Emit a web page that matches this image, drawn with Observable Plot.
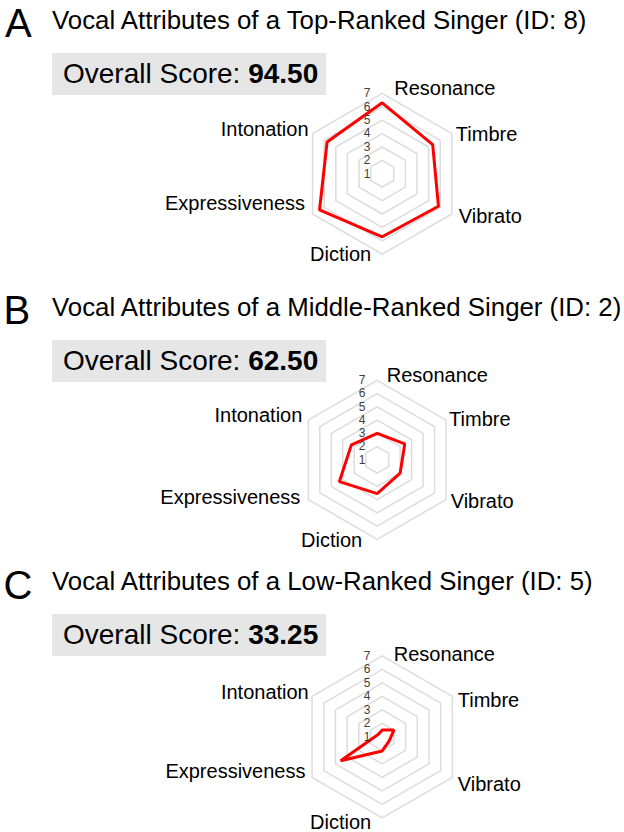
<!DOCTYPE html>
<html><head><meta charset="utf-8">
<script src="https://cdn.jsdelivr.net/npm/d3@7"></script>
<script src="https://cdn.jsdelivr.net/npm/@observablehq/plot@0.6"></script>
<style>
body{margin:0;background:#fff;}
#root{position:relative;width:624px;height:832px;overflow:hidden;font-family:"Liberation Sans",Arial,sans-serif;color:#000;}
.abs{position:absolute;white-space:nowrap;line-height:1;margin:0;padding:0;}
.box{position:absolute;background:#e6e6e6;}
svg.radar{position:absolute;left:0;}
</style></head><body><div id="root"></div>
<script>
// ---- data ----
const attributes = ["Resonance","Timbre","Vibrato","Diction","Expressiveness","Intonation"];
const panelLetters = ["A","B","C"];
const panelTitles = [
  "Vocal Attributes of a Top-Ranked Singer (ID: 8)",
  "Vocal Attributes of a Middle-Ranked Singer (ID: 2)",
  "Vocal Attributes of a Low-Ranked Singer (ID: 5)"
];
const overallScores = ["94.50","62.50","33.25"];
const topSingerValues    = [6.3, 5.35, 5.85, 5.7, 6.4, 5.75];
const middleSingerValues = [3.0, 3.4, 3.0, 3.55, 4.3, 3.25];
const lowSingerValues    = [1.5, 2.0, 1.6, 2.05, 4.55, 1.35];
const radialTicks = [1,2,3,4,5,6,7];
const seriesValues = [topSingerValues, middleSingerValues, lowSingerValues];

// ---- layout (style, not data) ----
const W = 624;
const layout = [
  {top:0,     h:287,   cx:381.7, cy:173.3, k:13.4,
   lab:{Resonance:[12,-5], Timbre:[4,0.7], Vibrato:[7,2.7], Diction:[-11,0], Expressiveness:[-7.5,-10.5], Intonation:[-4,-3.6]}},
  {top:287,   h:274.5, cx:376.7, cy:172.3, k:13.25,
   lab:{Resonance:[9.5,-5], Timbre:[3,-0.8], Vibrato:[4.6,1.8], Diction:[-15,1.4], Expressiveness:[-8,-2], Intonation:[-6,-4.6]}},
  {top:561.5, h:270.5, cx:381.7, cy:174.3, k:13.5,
   lab:{Resonance:[11.6,-1], Timbre:[5.4,4], Vibrato:[5.4,6.8], Diction:[-11,4.6], Expressiveness:[-6.6,-5.4], Intonation:[-3.3,-3.3]}}
];
const labelAnchor = {Resonance:"start", Timbre:"start", Vibrato:"start", Diction:"end", Expressiveness:"end", Intonation:"end"};
const FONT = "'Liberation Sans', Arial, sans-serif";

function radar(values, L){
  const n = attributes.length;
  const ang = i => (90 - 360/n * i) * Math.PI / 180;
  const pt = (v, i) => ({x:(v - radialTicks[0]) * Math.cos(ang(i)), y:(v - radialTicks[0]) * Math.sin(ang(i))});
  const rings = radialTicks.slice(1).flatMap(t => attributes.map((a, i) => ({level:t, ...pt(t, i)})));
  const shape = attributes.map((a, i) => ({attribute:a, value:values[i], ...pt(values[i], i)}));
  const outer = d3.max(radialTicks);
  const labels = attributes.map((a, i) => ({attribute:a, ...pt(outer, i)}));
  const ticks = radialTicks.map(t => ({t, ...pt(t, 0)}));
  const svg = Plot.plot({
    width: W, height: L.h, margin: 0,
    x: {domain:[-L.cx / L.k, (W - L.cx) / L.k], axis:null},
    y: {domain:[-(L.h - L.cy) / L.k, L.cy / L.k], axis:null},
    style: {fontFamily: FONT, background:"transparent", overflow:"visible"},
    marks: [
      Plot.line(rings, {x:"x", y:"y", z:"level", curve:"linear-closed", stroke:"#dcdcdc", strokeWidth:1.5}),
      Plot.line(shape, {x:"x", y:"y", curve:"linear-closed", stroke:"#ff0000", strokeWidth:3, strokeLinejoin:"miter"}),
      Plot.text(ticks, {x:"x", y:"y", text:d => String(d.t), dx:-15, fill:"#404040", fontSize:12}),
      ...attributes.map(a => Plot.text(labels.filter(d => d.attribute === a), {
        x:"x", y:"y", text:"attribute", textAnchor:labelAnchor[a],
        dx:L.lab[a][0], dy:L.lab[a][1], fontSize:20, fill:"#000"
      }))
    ]
  });
  svg.classList.add("radar");
  svg.style.top = L.top + "px";
  return svg;
}

const root = document.getElementById("root");
function addText(html, x, baseline, size, weight){
  const d = document.createElement("div");
  d.className = "abs";
  d.style.left = x + "px";
  d.style.top = (baseline - 0.8465 * size) + "px";
  d.style.fontSize = size + "px";
  if (weight) d.style.fontWeight = weight;
  d.innerHTML = html;
  root.appendChild(d);
}
panelTitles.forEach((title, p) => {
  const L = layout[p];
  root.appendChild(radar(seriesValues[p], L));
  addText(panelLetters[p], panelLetters[p] === "A" ? 5 : 3.5, L.top + 37, 40);
  addText(title, 52, L.top + 29.5, 25.8);
  const box = document.createElement("div");
  box.className = "box";
  box.style.left = "52px"; box.style.width = "274px";
  box.style.top = (L.top + 52.5) + "px"; box.style.height = "42px";
  root.appendChild(box);
  addText("Overall Score: <b>" + overallScores[p] + "</b>", 63, L.top + 83.5, 28);
});
</script></body></html>
